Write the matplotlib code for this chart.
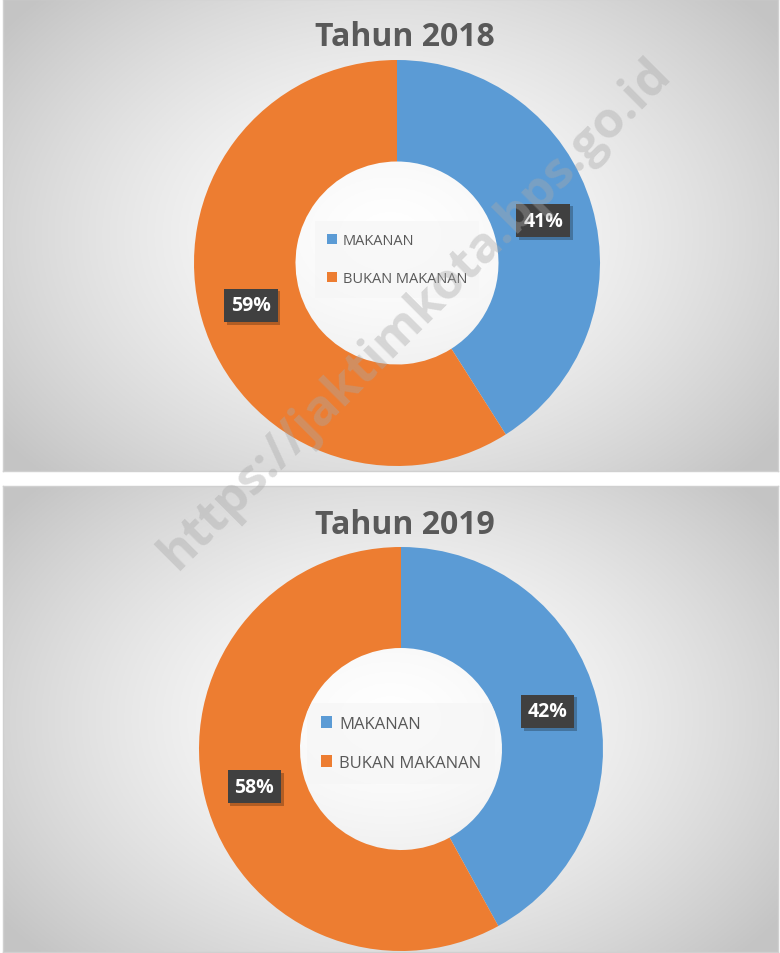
import numpy as np
import matplotlib
matplotlib.use("Agg")
import matplotlib.pyplot as plt
import matplotlib.patheffects as pe
from matplotlib.patches import Circle

plt.rcParams['font.family'] = ['Open Sans', 'DejaVu Sans']

titles = ["Tahun 2018", "Tahun 2019"]
categories = ["MAKANAN", "BUKAN MAKANAN"]
values_2018 = [41, 59]
values_2019 = [42, 58]
colors = ["#5b9bd5", "#ed7d31"]

W, H = 780, 954
fig = plt.figure(figsize=(W / 100, H / 100), dpi=100)
fig.patch.set_facecolor("white")

def px_axes(left, top, width, height, **kw):
    return fig.add_axes([left / W, (H - top - height) / H, width / W, height / H], **kw)

# radial gradient background
def gradient_bg(ax):
    nx, ny = 400, 240
    x = np.linspace(-1, 1, nx)
    y = np.linspace(-1, 1, ny)
    X, Y = np.meshgrid(x, y)
    R = np.sqrt(X ** 2 + (Y * 0.85) ** 2)
    R = np.clip(R / 1.25, 0, 1)
    v = 1.0 - 0.23 * R ** 1.5
    img = np.dstack([v, v, v])
    ax.imshow(img, extent=[0, 1, 0, 1], aspect="auto", zorder=0)
    ax.set_xlim(0, 1)
    ax.set_ylim(0, 1)
    ax.set_xticks([])
    ax.set_yticks([])
    for s in ax.spines.values():
        s.set_color("#d0d0d0")
        s.set_linewidth(1)

panels = [
    dict(top=0, height=473, cx=397, cy=264, r=203, title_y=38, leg_fs=10.5, leg_dy=0.008,
         leg_sp=1.6, values=values_2018),
    dict(top=487, height=467, cx=401, cy=750, r=202, title_y=525, leg_fs=12, leg_dy=0.014,
         leg_sp=1.35, values=values_2019),
]

for p, title in zip(panels, titles):
    bg = px_axes(3, p["top"], 775, p["height"] - 1)
    gradient_bg(bg)

    fig.text(405 / W, 1 - p["title_y"] / H, title, ha="center", va="center",
             fontsize=23, fontweight="bold", color="#595959")

    r = p["r"]
    ax = px_axes(p["cx"] - r, p["cy"] - r, 2 * r, 2 * r)
    ax.set_facecolor("none")
    wedges, texts, autotexts = ax.pie(
        p["values"], colors=colors, startangle=90, counterclock=False,
        radius=1.0, wedgeprops=dict(width=0.5, edgecolor="none"),
        autopct=lambda v: f"{v:.0f}%", pctdistance=0.75,
        textprops=dict(color="white", fontsize=14, fontweight="bold"))
    for t in autotexts:
        t.set_bbox(dict(boxstyle="square,pad=0.35", facecolor="#404040", edgecolor="none",
                        path_effects=[pe.SimplePatchShadow(offset=(2, -2), shadow_rgbFace="#000000", alpha=0.25),
                                      pe.Normal()]))
    ax.set_xlim(-1, 1)
    ax.set_ylim(-1, 1)
    ax.set_aspect("equal")
    ax.axis("off")

    leg = ax.legend(wedges, categories, loc="center", bbox_to_anchor=(0.5, 0.5 + p["leg_dy"]),
                    frameon=True, fontsize=p["leg_fs"], labelcolor="#595959",
                    handlelength=0.7, handleheight=0.7, handletextpad=0.4,
                    labelspacing=p["leg_sp"], borderpad=0.8)
    frame = leg.get_frame()
    frame.set_facecolor("#f6f6f6")
    frame.set_alpha(0.7)
    frame.set_edgecolor("none")
    frame.set_boxstyle("square", pad=0)
    hole = Circle((0, 0), 0.5, transform=ax.transData)
    frame.set_clip_path(hole)

# watermark
fig.text(415 / W, 1 - 315 / H, "https://jaktimkota.bps.go.id", rotation=45,
         ha="center", va="center", fontsize=36, fontweight="bold",
         color="#a8a8a8", alpha=0.4, zorder=10)

fig.savefig("out.png", dpi=100)
